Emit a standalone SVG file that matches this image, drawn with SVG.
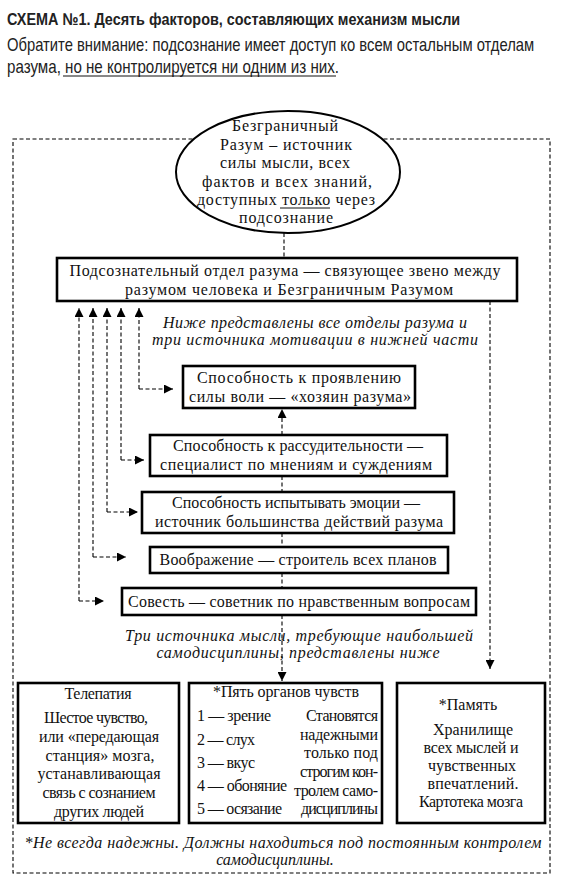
<svg xmlns="http://www.w3.org/2000/svg" width="566" height="883" viewBox="0 0 566 883">
<style>
.t{font-family:"Liberation Serif","DejaVu Serif",serif;font-size:16px;fill:#111}
.c{text-anchor:middle}
.r{text-anchor:end}
.i{font-style:italic}
.h{font-family:"Liberation Sans","Noto Sans",sans-serif;fill:#222}
.box{fill:#fff;stroke:#000;stroke-width:2.6}
.dash{fill:none;stroke:#000;stroke-width:1.1;stroke-dasharray:4 2.5}
.ul{stroke:#111;stroke-width:1}
</style>
<defs>
<marker id="ah" viewBox="0 0 10 10" refX="10" refY="5" markerWidth="9" markerHeight="9" markerUnits="userSpaceOnUse" orient="auto">
<path d="M0,0 L10,5 L0,10 Z" fill="#000"/>
</marker>
</defs>
<rect width="566" height="883" fill="#fff"/>

<g id="header">
<text class="h" transform="matrix(0.88 0 0 1 7 25)" x="0" y="0" font-size="17" font-weight="bold" fill="#111" textLength="515" lengthAdjust="spacingAndGlyphs">СХЕМА №1. Десять факторов, составляющих механизм мысли</text>
<text class="h" transform="matrix(0.86 0 0 1 7 51)" x="0" y="0" font-size="18" textLength="613" lengthAdjust="spacingAndGlyphs">Обратите внимание: подсознание имеет доступ ко всем остальным отделам</text>
<text class="h" transform="matrix(0.86 0 0 1 7 73)" x="0" y="0" font-size="18" textLength="386" lengthAdjust="spacingAndGlyphs">разума, но не контролируется ни одним из них.</text>
<line class="ul" x1="63" y1="76" x2="336" y2="76"/>
</g>

<g id="connectors">
<rect class="dash" x="13" y="139" width="537" height="734"/>
<line class="dash" x1="284" y1="233" x2="284" y2="258"/>
<line class="dash" x1="490" y1="301" x2="490" y2="669" marker-end="url(#ah)"/>
<path class="dash" d="M139,389 V308" marker-end="url(#ah)"/>
<path class="dash" d="M139,389 H173" marker-end="url(#ah)"/>
<path class="dash" d="M121,460 V308" marker-end="url(#ah)"/>
<path class="dash" d="M121,460 H144" marker-end="url(#ah)"/>
<path class="dash" d="M107,512 V308" marker-end="url(#ah)"/>
<path class="dash" d="M107,512 H138" marker-end="url(#ah)"/>
<path class="dash" d="M93,557 V308" marker-end="url(#ah)"/>
<path class="dash" d="M93,557 H126" marker-end="url(#ah)"/>
<path class="dash" d="M79,601 V308" marker-end="url(#ah)"/>
<path class="dash" d="M79,601 H104" marker-end="url(#ah)"/>
<line class="dash" x1="282" y1="435" x2="282" y2="409" marker-end="url(#ah)"/>
<line class="dash" x1="282" y1="476" x2="282" y2="492"/>
<line class="dash" x1="282" y1="533" x2="282" y2="547"/>
<line class="dash" x1="282" y1="573" x2="282" y2="588"/>
<line class="dash" x1="282" y1="615" x2="282" y2="681" marker-end="url(#ah)"/>
</g>

<g id="infinite-mind">
<ellipse cx="288" cy="172" rx="112" ry="61" fill="#fff" stroke="#000" stroke-width="2"/>
<text class="t c" x="285" y="131" textLength="106">Безграничный</text>
<text class="t c" x="286" y="150" textLength="132">Разум – источник</text>
<text class="t c" x="285" y="168" textLength="130">силы мысли, всех</text>
<text class="t c" x="287" y="187" textLength="170">фактов и всех знаний,</text>
<text class="t c" x="286" y="205" textLength="178">доступных только через</text>
<text class="t c" x="286" y="223" textLength="94">подсознание</text>
<line class="ul" x1="280" y1="208" x2="330" y2="208"/>
</g>

<g id="subconscious">
<rect class="box" x="57" y="258" width="460" height="43"/>
<text class="t c" x="285" y="276" font-size="17" textLength="431">Подсознательный отдел разума — связующее звено между</text>
<text class="t c" x="289" y="295" font-size="17" textLength="328">разумом человека и Безграничным Разумом</text>
</g>

<g id="note1">
<text class="t c i" x="315" y="328" textLength="304">Ниже представлены все отделы разума и</text>
<text class="t c i" x="315" y="345" textLength="326">три источника мотивации в нижней части</text>
</g>

<g id="will">
<rect class="box" x="183" y="366" width="232" height="42"/>
<text class="t c" x="299" y="383" font-size="17" textLength="204">Способность к проявлению</text>
<text class="t c" x="300" y="402" font-size="17" textLength="222">силы воли — «хозяин разума»</text>
</g>

<g id="reason">
<rect class="box" x="150" y="435" width="297" height="41"/>
<text class="t c" x="298" y="451" font-size="17" textLength="250">Способность к рассудительности —</text>
<text class="t c" x="296" y="470" font-size="17" textLength="272">специалист по мнениям и суждениям</text>
</g>

<g id="emotion">
<rect class="box" x="142" y="492" width="312" height="41"/>
<text class="t c" x="296" y="508" font-size="17" textLength="248">Способность испытывать эмоции —</text>
<text class="t c" x="299" y="527" font-size="17" textLength="288">источник большинства действий разума</text>
</g>

<g id="imagination">
<rect class="box" x="150" y="547" width="298" height="26"/>
<text class="t c" x="298" y="565" font-size="17" textLength="277">Воображение — строитель всех планов</text>
</g>

<g id="conscience">
<rect class="box" x="122" y="588" width="354" height="27"/>
<text class="t c" x="299" y="607" font-size="17" textLength="342">Совесть — советник по нравственным вопросам</text>
</g>

<g id="note2">
<text class="t c i" x="299" y="641" textLength="348">Три источника мысли, требующие наибольшей</text>
<text class="t c i" x="298" y="658" textLength="283">самодисциплины, представлены ниже</text>
</g>

<g id="telepathy">
<rect class="box" x="18" y="683" width="161" height="140"/>
<text class="t c" x="98" y="699" textLength="67">Телепатия</text>
<text class="t c" x="96" y="723" textLength="104">Шестое чувство,</text>
<text class="t c" x="99" y="742" textLength="120">или «передающая</text>
<text class="t c" x="100" y="761" textLength="109">станция» мозга,</text>
<text class="t c" x="99" y="779" textLength="123">устанавливающая</text>
<text class="t c" x="99" y="798" textLength="113">связь с сознанием</text>
<text class="t c" x="99" y="817" textLength="90">других людей</text>
</g>

<g id="senses">
<rect class="box" x="189" y="683" width="193" height="140"/>
<text class="t c" x="286" y="697" textLength="146">*Пять органов чувств</text>
<text class="t" x="197" y="721" textLength="74">1 — зрение</text>
<text class="t" x="197" y="745" textLength="58">2 — слух</text>
<text class="t" x="197" y="768" textLength="58">3 — вкус</text>
<text class="t" x="197" y="791" textLength="90">4 — обоняние</text>
<text class="t" x="197" y="814" textLength="85">5 — осязание</text>
<text class="t r" x="378" y="721" textLength="72">Становятся</text>
<text class="t r" x="378" y="740" textLength="78">надежными</text>
<text class="t r" x="378" y="758" textLength="74">только под</text>
<text class="t r" x="378" y="777" textLength="78">строгим кон-</text>
<text class="t r" x="378" y="796" textLength="84">тролем само-</text>
<text class="t r" x="378" y="814" textLength="77">дисциплины</text>
</g>

<g id="memory">
<rect class="box" x="397" y="683" width="148" height="140"/>
<text class="t c" x="468" y="710">*Память</text>
<text class="t c" x="473" y="735" textLength="80">Хранилище</text>
<text class="t c" x="471" y="753" textLength="95">всех мыслей и</text>
<text class="t c" x="472" y="771" textLength="88">чувственных</text>
<text class="t c" x="473" y="789" textLength="91">впечатлений.</text>
<text class="t c" x="471" y="807" textLength="104">Картотека мозга</text>
</g>

<g id="footnote">
<text class="t c i" x="283" y="848" textLength="517">*Не всегда надежны. Должны находиться под постоянным контролем</text>
<text class="t c i" x="275" y="865">самодисциплины.</text>
</g>
</svg>
